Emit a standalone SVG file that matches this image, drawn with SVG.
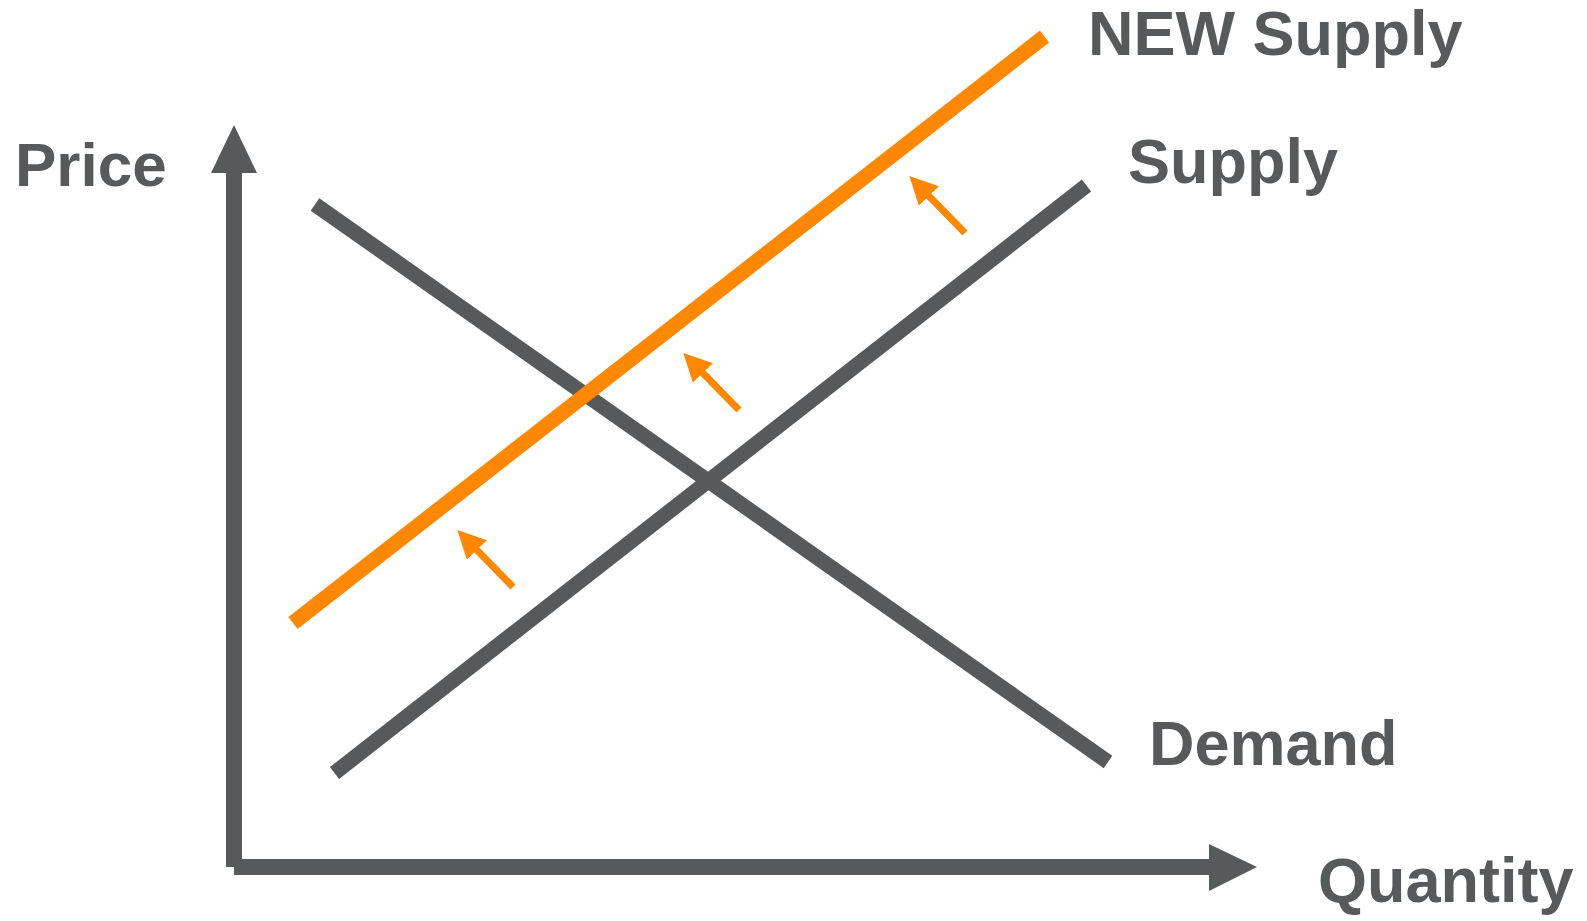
<svg xmlns="http://www.w3.org/2000/svg" width="1587" height="921" viewBox="0 0 1587 921">
<style>
.lbl{font-family:"Liberation Sans",Arial,sans-serif;font-weight:bold;font-size:63px;fill:#58595B}
.gray{stroke:#58595B;stroke-width:15;fill:none}
.orange{stroke:#FF8800;stroke-width:15;fill:none}
.shift{stroke:#FF8800;stroke-width:7;fill:none}
</style>
<defs>
<marker id="oh" viewBox="0 0 10 10" refX="2" refY="5" markerWidth="4" markerHeight="4" markerUnits="strokeWidth" orient="auto">
<path d="M0,0 L10,5 L0,10 Z" fill="#FF8800"/>
</marker>
</defs>
<rect width="1587" height="921" fill="#FFFFFF"/>
<g id="axes">
<rect x="226" y="168" width="16" height="699" fill="#58595B"/>
<polygon points="234,125 257,173 211,173" fill="#58595B"/>
<rect x="234" y="859" width="976" height="16" fill="#58595B"/>
<polygon points="1257,867 1209,844 1209,891" fill="#58595B"/>
</g>
<g id="curves">
<line id="demand-line" class="gray" x1="315" y1="204.5" x2="1108" y2="762"/>
<line id="supply-line" class="gray" x1="334.5" y1="773" x2="1086.5" y2="185.5"/>
<line id="new-supply-line" class="orange" x1="293" y1="623" x2="1044.5" y2="36.5"/>
</g>
<g id="connectors">
<line class="shift" x1="513" y1="587" x2="473" y2="546" marker-end="url(#oh)"/>
<line class="shift" x1="739" y1="410" x2="699" y2="369" marker-end="url(#oh)"/>
<line class="shift" x1="965" y1="233" x2="925" y2="192" marker-end="url(#oh)"/>
</g>
<g id="labels">
<text class="lbl" x="15" y="186" style="font-size:62px">Price</text>
<text class="lbl" x="1318" y="902">Quantity</text>
<text class="lbl" x="1088" y="55">NEW Supply</text>
<text class="lbl" x="1128" y="183">Supply</text>
<text class="lbl" x="1149" y="765">Demand</text>
</g>
</svg>
